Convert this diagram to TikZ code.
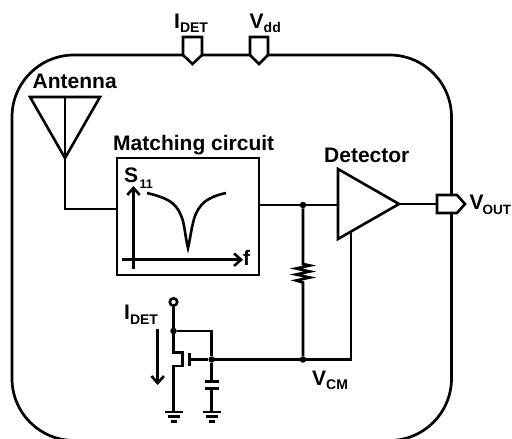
\documentclass[tikz,border=0pt]{standalone}
\usepackage{fontspec}
\setmainfont{Liberation Sans}
\usetikzlibrary{arrows.meta}
\tikzset{
  wire/.style={line width=2.6pt,line join=miter},
  dot/.style={circle,fill=black,inner sep=0pt,minimum size=6.5pt},
  lab/.style={inner sep=0pt,font=\fontsize{21}{23}\selectfont\bfseries,anchor=base west},
  opena/.style={-{Straight Barb[length=7pt,width=12.5pt,line width=2.6pt]}}
}
\newcommand{\sbs}[2][4pt]{\raisebox{-#1}{\fontsize{14}{15}\selectfont #2}}
\newcommand{\gndsym}[1]{%
  \draw[wire] ([xshift=-9pt]#1) -- ([xshift=9pt]#1);
  \draw[wire] ([xshift=-6pt,yshift=-4.7pt]#1) -- ([xshift=6pt,yshift=-4.7pt]#1);
  \draw[wire] ([xshift=-3pt,yshift=-9.7pt]#1) -- ([xshift=3pt,yshift=-9.7pt]#1);}
\begin{document}
\begin{tikzpicture}[x=1pt,y=-1pt]
\useasboundingbox (0,0) rectangle (512,439);
\begin{scope}
\clip (0,0) rectangle (512,439);
\draw[line width=2.7pt,rounded corners=62pt] (12,55) rectangle (451.5,440.5);
\end{scope}
% pads
\draw[wire,fill=white] (183,37) -- (202,37) -- (202,55) -- (192.5,64) -- (183,55) -- cycle;
\draw[wire,fill=white] (250,37) -- (268,37) -- (268,55) -- (259,64) -- (250,55) -- cycle;
\node[lab] (idet) at (174,28) {I\sbs{DET}};
\node[lab] (vdd) at (249.5,28) {V\sbs{dd}};
% antenna
\node[lab] (ant) at (32.5,88) {Antenna};
\coordinate (anttip) at (65,158);
\coordinate (anttop) at (65,97);
\draw[wire] (30,97) -- (100,97) -- (anttip) -- cycle;
\draw[wire] (anttop) -- (anttip) -- (65,209) -- (116,209);
% matching box
\node[lab] (mt) at (113,150) {Matching circuit};
\node[draw,line width=2.7pt,minimum width=142pt,minimum height=117pt,inner sep=0pt] (mbox) at (188,216.5) {};
\draw[wire,opena] (133.5,269) -- (133.5,186);
\draw[wire,opena] (122,259.7) -- (243,259.7);
\draw[wire] (147,193) .. controls (172,199) and (178,205) .. (183,221) .. controls (185,230) and (186,240) .. (188,248)
  .. controls (190,240) and (191,230) .. (194,219) .. controls (199,203) and (208,197) .. (226,193);
\node[lab] (s11) at (124,182) {S\raisebox{-6pt}{\fontsize{12.5}{14}\selectfont\kern1.5pt 11}};
\node[lab] (ff) at (243,265) {f};
% detector
\node[lab] (dt) at (324,162) {Detector};
\coordinate (det1) at (338,169);
\coordinate (det2) at (338,239);
\coordinate (det3) at (399,204);
\draw[wire] (det1) -- (det2) -- (det3) -- cycle;
\node[dot] (n1) at (303,205) {};
\node[dot] (n2) at (303,359.5) {};
\draw[wire] (259,205) -- (n1) -- (338,205);
\draw[wire] (det3) -- (437,204);
\draw[wire,fill=white] (437,195) -- (457,195) -- (465,204) -- (457,213) -- (437,213) -- cycle;
\node[lab] (vo) at (469.5,209) {V\kern-1pt\raisebox{-5pt}{\fontsize{13.5}{15}\selectfont OUT}};
% resistor
\draw[wire] (n1) -- (303,264) -- (310,265.5) -- (296,268.5) -- (310,271.5) -- (296,274.5) -- (310,277.5) -- (296,280.5) -- (303,282.5) -- (n2);
\draw[wire] (211.7,359.5) -- (351,359.5) -- (351,233);
\node[lab] (vcm) at (312,385) {V\sbs{CM}};
% transistor
\node[dot] (n3) at (173.5,331) {};
\node[dot] (n4) at (211.7,359.5) {};
\node[circle,draw,line width=2.6pt,minimum size=7.5pt,inner sep=0pt] (vin) at (173.5,302) {};
\draw[wire] (vin) -- (n3) -- (211.7,331) -- (n4);
\draw[wire] (n3) -- (173.5,352.5) -- (182.5,352.5) -- (182.5,366) -- (173.5,366) -- (173.5,412);
\draw[wire] (189.3,352.5) -- (189.3,366);
\draw[wire] (189.3,359.5) -- (n4);
\gndsym{173.5,412}
% cap
\coordinate (g2) at (211.7,412);
\draw[wire] (n4) -- (211.7,381.7);
\draw[wire] (204.7,381.7) -- (218.7,381.7);
\draw[wire] (204.7,388.7) -- (218.7,388.7);
\draw[wire] (211.7,388.7) -- (g2);
\gndsym{g2}
% current
\node[lab] (il) at (124,319) {I\sbs[5pt]{DET}};
\coordinate (ia) at (157.7,329);
\coordinate (ib) at (157.7,385);
\draw[wire,opena] (ia) -- (ib);
\end{tikzpicture}
\end{document}
